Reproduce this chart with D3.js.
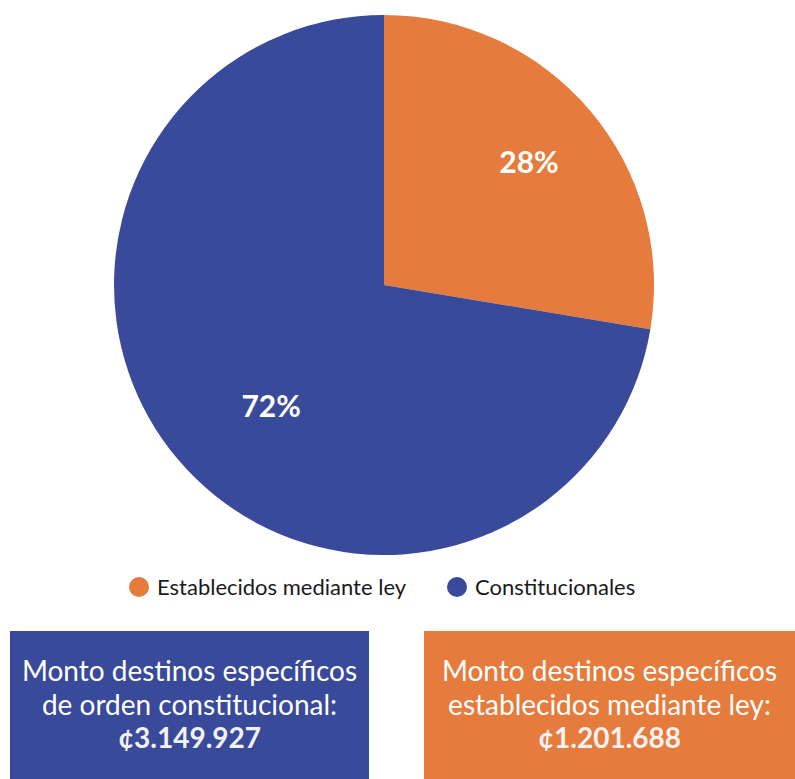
<!DOCTYPE html>
<html>
<head>
<meta charset="utf-8">
<script src="https://cdn.jsdelivr.net/npm/d3@7"></script>
<style>
  body { margin: 0; background: #fff; }
  svg { display: block; font-family: Lato, sans-serif; }
</style>
</head>
<body>
<svg id="chart"></svg>
<script>
// Data
const categories = ["Establecidos mediante ley", "Constitucionales"];
const amounts = [1201.688, 3149.927];
const colors = ["#E57B3C", "#3A4A9B"];
const boxLines = [
    ["Monto destinos específicos", "de orden constitucional:", "¢3.149.927"],
    ["Monto destinos específicos", "establecidos mediante ley:", "¢1.201.688"]
];
const boxColors = ["#3A4A9B", "#E57B3C"];
// label placement tweaks (radius, angle shift in radians)
const labelRadius = [190, 166];
const labelShift = [0, -0.12];

const width = 795;
const height = 779;
const cx = 384, cy = 285, radius = 270;

const svg = d3.select("#chart")
    .attr("width", width)
    .attr("height", height);

const total = d3.sum(amounts);
const pie = d3.pie().sort(null)(amounts);
const arc = d3.arc().innerRadius(0).outerRadius(radius);

const g = svg.append("g").attr("transform", `translate(${cx},${cy})`);

g.selectAll("path")
    .data(pie)
    .enter().append("path")
    .attr("d", arc)
    .attr("fill", (d, i) => colors[i]);

// percentage labels
g.selectAll("text")
    .data(pie)
    .enter().append("text")
    .attr("transform", (d, i) => {
        const a = (d.startAngle + d.endAngle) / 2 + labelShift[i];
        const x = Math.sin(a) * labelRadius[i];
        const y = -Math.cos(a) * labelRadius[i];
        return `translate(${x},${y})`;
    })
    .attr("text-anchor", "middle")
    .attr("dy", "0.35em")
    .attr("fill", "#fff")
    .style("font-weight", "bold")
    .style("font-size", "30px")
    .text(d => d3.format(".0%")(d.value / total));

// legend
const legendX = d3.scaleOrdinal().domain(categories).range([139, 457]);
const legend = svg.append("g").attr("transform", "translate(0,587)");
const item = legend.selectAll("g")
    .data(categories)
    .enter().append("g")
    .attr("transform", d => `translate(${legendX(d)},0)`);
item.append("circle")
    .attr("r", 10)
    .attr("fill", (d, i) => colors[i]);
item.append("text")
    .attr("x", 18)
    .attr("dy", "0.35em")
    .style("font-size", "22px")
    .attr("fill", "#1a1a1a")
    .text(d => d);

// amount boxes
const boxes = [
    {x: 10, w: 359},
    {x: 424, w: 371}
];
const box = svg.selectAll(".box")
    .data(boxLines)
    .enter().append("g")
    .attr("class", "box")
    .attr("transform", (d, i) => `translate(${boxes[i].x},631)`);
box.append("rect")
    .attr("width", (d, i) => boxes[i].w)
    .attr("height", 148)
    .attr("fill", (d, i) => boxColors[i]);
box.each(function(lines, i) {
    d3.select(this).selectAll("text")
        .data(lines)
        .enter().append("text")
        .attr("x", boxes[i].w / 2)
        .attr("y", (d, j) => 50 + j * 33.5)
        .attr("text-anchor", "middle")
        .attr("fill", (d, j) => j === 2 ? "#F2F2F2" : "#fff")
        .style("font-size", "28px")
        .style("font-weight", (d, j) => j === 2 ? "bold" : "normal")
        .text(d => d);
});
</script>
</body>
</html>
